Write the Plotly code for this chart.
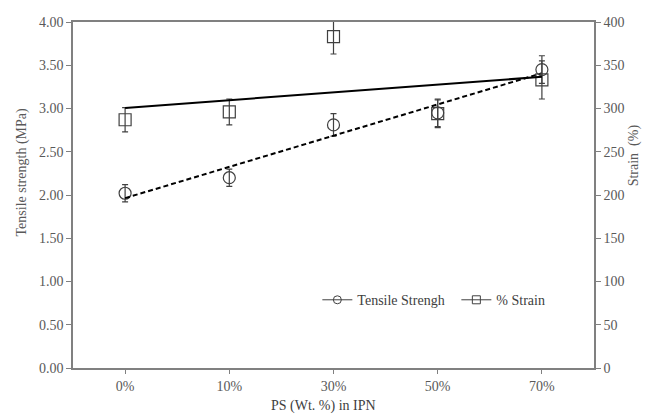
import numpy as np
import plotly.graph_objects as go

# PS content in the IPN (x categories)
ps_content = ["0%", "10%", "30%", "50%", "70%"]

# Tensile strength (MPa) with standard deviation
tensile = [2.02, 2.20, 2.81, 2.95, 3.45]
tensile_err = [0.10, 0.10, 0.13, 0.16, 0.16]

# Strain at break (%) with standard deviation
strain = [287, 296, 383, 294, 333]
strain_err = [14, 15, 20, 16, 22]

FONT = "Liberation Serif, Times New Roman, serif"
TEXT = "#595959"
AXIS = "#808080"

# Linear trend lines fitted over the category positions
idx = np.arange(len(ps_content))
t_fit = np.polyval(np.polyfit(idx, tensile, 1), idx[[0, -1]])
s_fit = np.polyval(np.polyfit(idx, strain, 1), idx[[0, -1]])
ends = [ps_content[0], ps_content[-1]]

fig = go.Figure()

fig.add_trace(go.Scatter(
    x=ps_content, y=tensile, mode="markers", yaxis="y",
    marker=dict(symbol="circle-open", size=12, color="#404040", line=dict(width=1.2)),
    error_y=dict(type="data", array=tensile_err, color="#404040", thickness=1.2, width=3),
    showlegend=False,
))
fig.add_trace(go.Scatter(
    x=ps_content, y=strain, mode="markers", yaxis="y2",
    marker=dict(symbol="square-open", size=12, color="#404040", line=dict(width=1.2)),
    error_y=dict(type="data", array=strain_err, color="#404040", thickness=1.2, width=3),
    showlegend=False,
))

fig.add_trace(go.Scatter(
    x=ends, y=t_fit, mode="lines", yaxis="y",
    line=dict(color="black", width=2, dash="5px,3px"), showlegend=False,
))
fig.add_trace(go.Scatter(
    x=ends, y=s_fit, mode="lines", yaxis="y2",
    line=dict(color="black", width=2), showlegend=False,
))

# Legend entries
fig.add_trace(go.Scatter(
    x=[None], y=[None], mode="lines+markers", name="Tensile Strengh",
    line=dict(color="#404040", width=1),
    marker=dict(symbol="circle-open", size=8, color="#404040"),
))
fig.add_trace(go.Scatter(
    x=[None], y=[None], mode="lines+markers", name="% Strain",
    line=dict(color="#404040", width=1),
    marker=dict(symbol="square-open", size=8, color="#404040"),
))

fig.update_layout(
    width=648, height=414,
    margin=dict(l=73, r=54, t=22, b=46),
    paper_bgcolor="white", plot_bgcolor="white",
    font=dict(family=FONT, size=14, color=TEXT),
    xaxis=dict(
        type="category", categoryorder="array", categoryarray=ps_content,
        range=[-0.5, 4.5],
        showline=True, linecolor=AXIS, linewidth=1.5, mirror=True,
        ticks="outside", ticklen=4, tickcolor=AXIS,
        showgrid=False, zeroline=False,
    ),
    yaxis=dict(
        range=[0, 4], dtick=0.5, tickformat=".2f",
        showline=True, linecolor=AXIS, linewidth=1.5,
        ticks="outside", ticklen=5, tickcolor=AXIS,
        showgrid=False, zeroline=False,
    ),
    yaxis2=dict(
        range=[0, 400], dtick=50, overlaying="y", side="right",
        showline=True, linecolor=AXIS, linewidth=1.5,
        ticks="outside", ticklen=5, tickcolor=AXIS,
        showgrid=False, zeroline=False,
    ),
    legend=dict(
        orientation="h", x=0.469, y=0.196, xanchor="left", yanchor="middle",
        bgcolor="rgba(0,0,0,0)", font=dict(size=14, color="#404040"),
        itemwidth=30, entrywidth=94,
    ),
    annotations=[
        dict(text="PS (Wt. %) in IPN", xref="paper", yref="paper",
             x=0.48, y=-0.11, xanchor="center", yanchor="middle", showarrow=False,
             font=dict(size=14, color="#404040")),
        dict(text="Tensile strength (MPa)", xref="paper", yref="paper",
             x=-0.098, y=0.565, xanchor="center", yanchor="middle",
             textangle=-90, showarrow=False,
             font=dict(size=14, color=TEXT)),
        dict(text="Strain  (%)", xref="paper", yref="paper",
             x=1.077, y=0.615, xanchor="center", yanchor="middle",
             textangle=-90, showarrow=False,
             font=dict(size=14, color=TEXT)),
    ],
)

fig.write_html("out.html")
